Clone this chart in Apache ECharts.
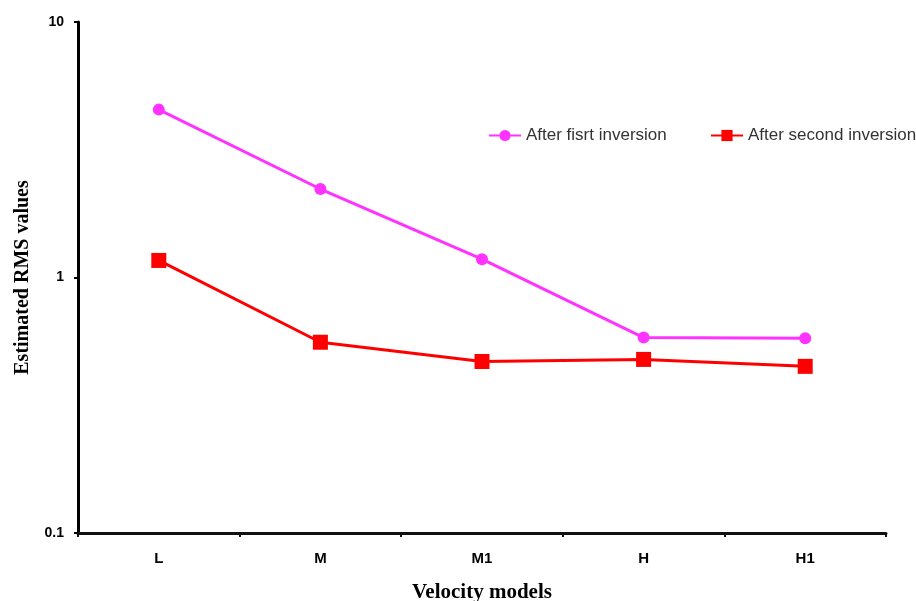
<!DOCTYPE html>
<html>
<head>
<meta charset="utf-8">
<script src="https://cdn.jsdelivr.net/npm/echarts@6/dist/echarts.min.js"></script>
<style>html,body{margin:0;padding:0;background:#fff;}#c{width:916px;height:601px;}</style>
</head>
<body>
<div id="c"></div>
<script>
const categories = ['L', 'M', 'M1', 'H', 'H1'];
const firstInversion = [4.54, 2.22, 1.18, 0.582, 0.579];
const secondInversion = [1.166, 0.558, 0.469, 0.478, 0.449];
const seriesNames = ['After fisrt inversion', 'After second inversion'];
const yTicks = [0.1, 1, 10];

const chart = echarts.init(document.getElementById('c'), null, {renderer: 'canvas'});
const legendText = {fontFamily: 'Liberation Sans, Arial', fontSize: 17, color: '#333'};
chart.setOption({
  animation: false,
  backgroundColor: '#fff',
  grid: {left: 78, right: 30, top: 22, bottom: 68, outerBoundsMode: 'none', containLabel: false},
  legend: [
    {data: [seriesNames[0]], left: 488, top: 127, padding: 0, itemWidth: 32, itemHeight: 14, itemGap: 4, textStyle: legendText},
    {data: [seriesNames[1]], left: 710, top: 127, padding: 0, itemWidth: 32, itemHeight: 14, itemGap: 4, textStyle: legendText}
  ],
  xAxis: {
    type: 'category',
    data: categories,
    boundaryGap: true,
    name: 'Velocity models',
    nameLocation: 'middle',
    nameGap: 49,
    nameTextStyle: {fontFamily: 'Liberation Serif, Times New Roman', fontWeight: 'bold', fontSize: 21, color: '#000'},
    axisLine: {lineStyle: {color: '#111', width: 3}},
    axisTick: {show: true, length: 4, lineStyle: {color: '#111', width: 2}},
    axisLabel: {fontFamily: 'Liberation Sans, Arial', fontWeight: 'bold', fontSize: 15, color: '#000', margin: 18}
  },
  yAxis: {
    type: 'log',
    logBase: 10,
    min: yTicks[0],
    max: yTicks[yTicks.length - 1],
    name: 'Estimated RMS values',
    nameLocation: 'middle',
    nameGap: 45,
    nameTextStyle: {fontFamily: 'Liberation Serif, Times New Roman', fontWeight: 'bold', fontSize: 20, color: '#000'},
    axisLine: {show: true, lineStyle: {color: '#000', width: 3}},
    axisTick: {show: true, length: 4, lineStyle: {color: '#000', width: 2}},
    splitLine: {show: false},
    minorTick: {show: false},
    axisLabel: {fontFamily: 'Liberation Sans, Arial', fontWeight: 'bold', fontSize: 14, color: '#000', margin: 14,
      formatter: v => String(v)}
  },
  series: [
    {
      name: seriesNames[0], type: 'line', data: firstInversion,
      symbol: 'circle', symbolSize: 12,
      lineStyle: {color: '#ff33ff', width: 3},
      itemStyle: {color: '#ff33ff'}
    },
    {
      name: seriesNames[1], type: 'line', data: secondInversion,
      symbol: 'rect', symbolSize: 15,
      lineStyle: {color: '#ff0000', width: 3},
      itemStyle: {color: '#ff0000'}
    }
  ]
});
</script>
</body>
</html>
